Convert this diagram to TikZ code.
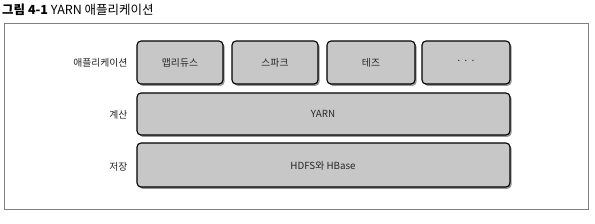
\documentclass[tikz,border=0pt]{standalone}
\usepackage{fontspec}
\setmainfont{Noto Sans CJK KR}
\usetikzlibrary{shadows}
\begin{document}
\begin{tikzpicture}[x=1pt,y=-1pt,
  layerbox/.style={draw=black, line width=1.1pt, rounded corners=4pt, fill=black!22,
    drop shadow={shadow xshift=1.6pt, shadow yshift=-1.8pt, fill=black!75, opacity=0.55}},
  rowlabel/.style={anchor=east, font=\fontsize{9.8}{11}\selectfont, text=black!85},
  boxtext/.style={font=\fontsize{9.8}{11}\selectfont, text=black!85}]
\useasboundingbox (0,0) rectangle (595,223);
\node[anchor=west, inner sep=0pt, font=\fontsize{12.5}{14}\selectfont] (title) at (2,10)
  {{\bfseries 그림 4-1} YARN 애플리케이션};
\draw[draw=black!50, line width=0.8pt] (4,23) rectangle (588,209);
% application row
\draw[layerbox] (137,41) rectangle (223,84);
\draw[layerbox] (232,41) rectangle (318,84);
\draw[layerbox] (327,41) rectangle (415,84);
\draw[layerbox] (422,41) rectangle (510,84);
\node[boxtext] (mr) at (180,63) {맵리듀스};
\node[boxtext] (spark) at (275,63) {스파크};
\node[boxtext] (tez) at (371,63) {테즈};
\node[boxtext] (dots) at (466,62) {·\,·\,·};
% yarn
\draw[layerbox] (137,93) rectangle (510,135);
\node[boxtext] (yarn) at (323,114) {YARN};
% hdfs
\draw[layerbox] (137,143) rectangle (510,187);
\node[boxtext] (hdfs) at (323,166) {HDFS와 HBase};
% labels
\node[rowlabel] (lapp) at (131,63) {애플리케이션};
\node[rowlabel] (lcomp) at (131,115) {계산};
\node[rowlabel] (lstore) at (131,167) {저장};
\end{tikzpicture}
\end{document}
